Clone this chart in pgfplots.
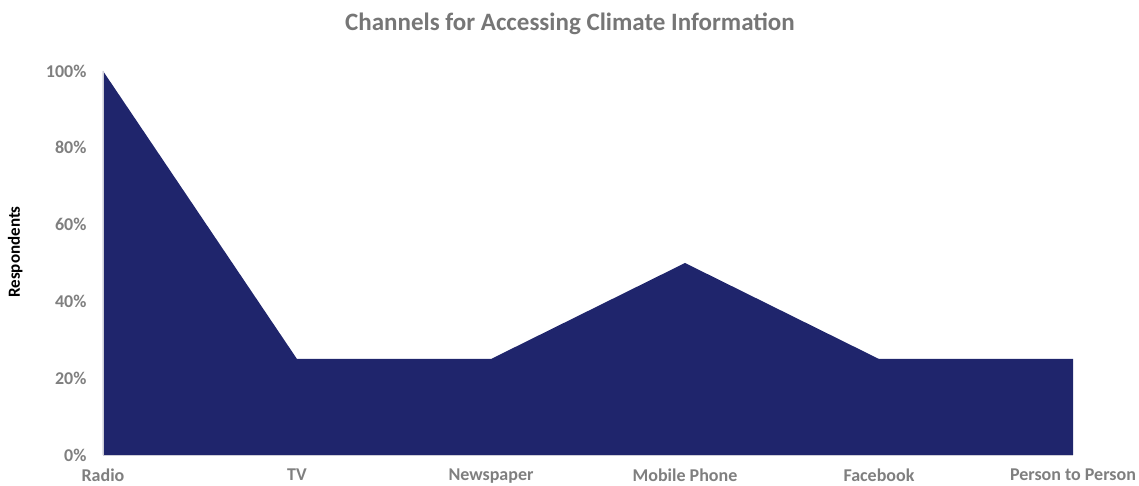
\documentclass[border=0pt]{standalone}
\usepackage{fontspec}
\setmainfont{Carlito}
\usepackage{pgfplots}
\pgfplotsset{compat=1.18}
\definecolor{navy}{RGB}{31,37,108}
\definecolor{tgray}{RGB}{127,127,127}
\definecolor{agray}{RGB}{205,205,215}
\begin{document}
\begin{tikzpicture}
\useasboundingbox (-103pt,-31pt) rectangle (1036pt,455pt);
\begin{axis}[
  scale only axis,
  width=970pt, height=384pt,
  xmin=0, xmax=5, ymin=0, ymax=100,
  axis lines*=left,
  axis line style={agray, line width=0.8pt, -},
  axis on top,
  xtick={0,1,2,3,4,5},
  xticklabels={Radio,TV,Newspaper,Mobile Phone,Facebook,Person to Person},
  ytick={0,20,40,60,80,100},
  yticklabel={\pgfmathprintnumber{\tick}\%},
  /pgf/number format/assume math mode=true,
  major tick length=0pt,
  ticklabel style={font=\fontsize{18}{21}\selectfont\bfseries, text=tgray},
  xticklabel style={yshift=-13pt, inner ysep=1pt},
  yticklabel style={xshift=-13pt},
  ylabel={Respondents},
  ylabel style={font=\fontsize{17}{20}\selectfont\bfseries, text=black, anchor=south},
  every axis y label/.append style={at={(-77pt,203pt)}},
  clip=false,
]
\addplot[fill=navy, draw=none] coordinates {(0,100) (1,25) (2,25) (3,50) (4,25) (5,25)} \closedcycle;
\end{axis}
\node[font=\fontsize{25}{30}\selectfont\bfseries, text={rgb,255:red,118;green,118;blue,118}] at (467pt,431pt) {Channels for Accessing Climate Information};
\end{tikzpicture}
\end{document}
